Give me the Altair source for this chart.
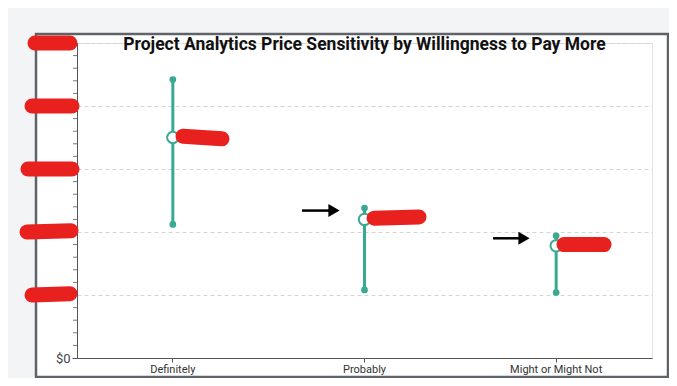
import altair as alt
import pandas as pd

title_text = "Project Analytics Price Sensitivity by Willingness to Pay More"
categories = ["Definitely", "Probably", "Might or Might Not"]
high_vals = [221, 119, 97]
mean_vals = [175, 110, 89]
low_vals = [106, 54, 52]
y_ticks = [0, 50, 100, 150, 200, 250]

teal = "#3aa991"
page_gray = "#f3f4f6"

df = pd.DataFrame({"cat": categories, "high": high_vals, "mean": mean_vals, "low": low_vals})
df["label"] = ["$" + str(v) for v in mean_vals]

W, H = 575, 315

xenc = alt.X("cat:N", sort=categories, title=None,
             scale=alt.Scale(paddingInner=0, paddingOuter=0),
             axis=alt.Axis(labelAngle=0, labelFont="Roboto", labelFontSize=11, labelColor="#333",
                           domainColor="#555", tickColor="#555", tickSize=4, labelPadding=1))
yscale = alt.Scale(domain=[0, 250], nice=False)
y_axis = alt.Axis(values=y_ticks, format="$,.0f", labelFont="Roboto", labelFontSize=13,
                  labelColor="#444", domainColor="#555", tickColor="#555", tickSize=5,
                  grid=True, gridDash=[4, 3], gridColor="#d5d5d5", labelPadding=2)

one = pd.DataFrame({"a": [0]})
title_df = pd.DataFrame({"t": [title_text]})

# page margin (gray) around the white panel
gray_x1 = [-69, 591, -41, -41]
gray_x2 = [-41, 592, 591, 591]
gray_y1 = [-35, -35, -35, 334]
gray_y2 = [335, 335, -9, 335]
gray_df = pd.DataFrame({"x1": gray_x1, "x2": gray_x2, "y1": gray_y1, "y2": gray_y2})
margins = alt.Chart(gray_df).mark_rect(color=page_gray).encode(
    x=alt.X("x1:Q", scale=None), x2="x2:Q", y=alt.Y("y1:Q", scale=None), y2="y2:Q")

frame = alt.Chart(one).mark_rect(fill="transparent", stroke="#5f6368", strokeWidth=2.5).encode(
    x=alt.value(-41), x2=alt.value(591), y=alt.value(-9), y2=alt.value(334))

title = alt.Chart(title_df).mark_text(font="Roboto", fontSize=17.5, fontWeight="bold", color="#111",
                                      align="center", baseline="middle").encode(
    x=alt.value(W / 2), y=alt.value(2), text="t:N")

# minor ticks
minor_vals = [v for v in range(0, 251, 10) if v % 50 != 0]
minor_df = pd.DataFrame({"v": minor_vals})
minor = alt.Chart(minor_df).mark_rule(color="#777", strokeWidth=1).encode(
    y=alt.Y("v:Q", scale=yscale), x=alt.value(-4), x2=alt.value(0))

rules = alt.Chart(df).mark_rule(color=teal, strokeWidth=3).encode(
    x=xenc, y=alt.Y("low:Q", scale=yscale, axis=y_axis, title=None), y2="high:Q")
hi = alt.Chart(df).mark_point(filled=True, color=teal, size=45, opacity=1).encode(
    x=alt.X("cat:N", sort=categories), y=alt.Y("high:Q", scale=yscale))
lo = alt.Chart(df).mark_point(filled=True, color=teal, size=45, opacity=1).encode(
    x=alt.X("cat:N", sort=categories), y=alt.Y("low:Q", scale=yscale))
mean = alt.Chart(df).mark_point(filled=True, fill="white", stroke=teal, strokeWidth=2, size=130, opacity=1).encode(
    x=alt.X("cat:N", sort=categories), y=alt.Y("mean:Q", scale=yscale))
mlabel = alt.Chart(df).mark_text(align="left", dx=12, font="Roboto", fontSize=12, color="#333").encode(
    x=alt.X("cat:N", sort=categories), y=alt.Y("mean:Q", scale=yscale), text="label:N")

# red redaction strokes
blob_x1 = [-42, -45, -49, -50, -45, 106, 297, 487]
blob_x2 = [-7, -5, -5, -6, -7, 145, 342, 527]
blob_y1 = [250, 200, 150, 100, 50, 176, 111, 90]
blob_y2 = [250, 200, 150, 101, 51, 174, 112, 90]
blob_df = pd.DataFrame({"x1": blob_x1, "x2": blob_x2, "y1": blob_y1, "y2": blob_y2})
blobs = alt.Chart(blob_df).mark_rule(color="#e8201e", strokeWidth=15, strokeCap="round").encode(
    x=alt.X("x1:Q", scale=None), x2="x2:Q",
    y=alt.Y("y1:Q", scale=yscale), y2="y2:Q")

# arrows
arrow_x1 = [225, 416]
arrow_x2 = [254, 444]
arrow_tip = [257, 447]
arrow_y = [117, 95]
arrow_df = pd.DataFrame({"x1": arrow_x1, "x2": arrow_x2, "tip": arrow_tip, "y": arrow_y})
arrow_lines = alt.Chart(arrow_df).mark_rule(color="black", strokeWidth=2.5).encode(
    x=alt.X("x1:Q", scale=None), x2="x2:Q", y=alt.Y("y:Q", scale=yscale))
arrow_heads = alt.Chart(arrow_df).mark_point(shape="triangle-right", filled=True, color="black", size=170, opacity=1).encode(
    x=alt.X("tip:Q", scale=None), y=alt.Y("y:Q", scale=yscale))

chart = alt.layer(rules, margins, frame, title, minor, hi, lo, mean, mlabel, blobs,
                  arrow_lines, arrow_heads).properties(
    width=W, height=H,
    autosize=alt.AutoSizeParams(type="none"),
    padding={"left": 69, "top": 35, "right": 17, "bottom": 20},
    background="white",
).configure_view(stroke="#e3e3e3", strokeWidth=1)

chart.save("out.html", embed_options={"renderer": "svg", "actions": False})
